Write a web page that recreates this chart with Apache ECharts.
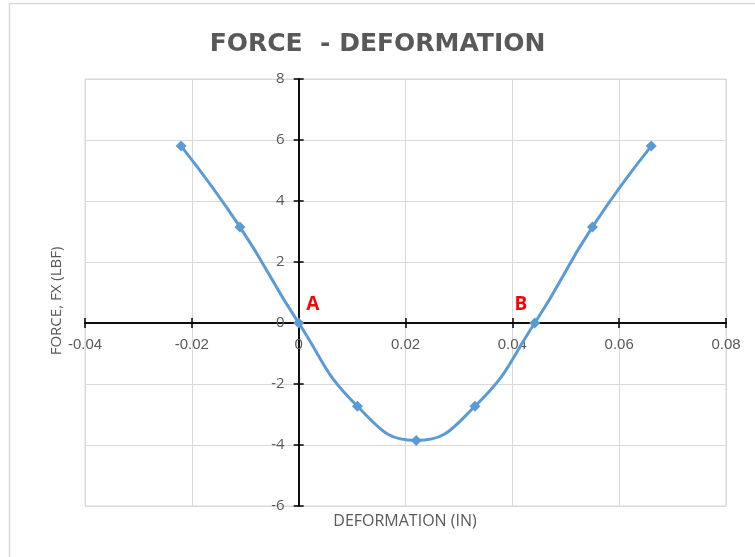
<!DOCTYPE html>
<html><head><meta charset="utf-8">
<script src="https://cdn.jsdelivr.net/npm/echarts@6/dist/echarts.min.js"></script>
<style>html,body{margin:0;padding:0;background:#fff}#c{width:755px;height:557px}</style>
</head><body><div id="c"></div>
<script>
const deformation = [-0.022, -0.011, 0, 0.011, 0.022, 0.033, 0.0442, 0.055, 0.066];
const force = [5.8, 3.15, 0, -2.73, -3.85, -2.73, 0, 3.15, 5.8];
const pointLabels = ['', '', 'A', '', '', '', 'B', '', ''];
const xTicks = {min: -0.04, max: 0.08, interval: 0.02};
const yTicks = {min: -6, max: 8, interval: 2};

const chart = echarts.init(document.getElementById('c'));
const gray = '#595959';
const gridC = '#d9d9d9';
const labelPos = {A: ['right', [-3, -18]], B: ['left', [3, -18]]};
const data = deformation.map((x, i) => {
  const d = {value: [x, force[i]]};
  const t = pointLabels[i];
  if (t) d.label = {show: true, formatter: t, position: labelPos[t][0], offset: labelPos[t][1],
    color: '#ff0000', fontWeight: 'bold', fontSize: 19, fontFamily: 'Open Sans'};
  return d;
});
const G = {left: 85, right: 29, top: 79, bottom: 51};
function xAx(inside, off) {
  return {type: 'value', min: xTicks.min, max: xTicks.max, interval: xTicks.interval, position: 'bottom', offset: off,
    axisLine: {onZero: false, lineStyle: {color: '#000', width: 1.5}},
    axisTick: {show: true, inside: inside, length: 5, lineStyle: {color: '#000', width: 1.5}},
    axisLabel: {show: !inside, color: gray, fontSize: 15, margin: 14, fontFamily: 'Liberation Sans'},
    splitLine: {show: !inside, lineStyle: {color: gridC, width: 1}}};
}
function yAx(inside, off) {
  return {type: 'value', min: yTicks.min, max: yTicks.max, interval: yTicks.interval, position: 'left', offset: off,
    axisLine: {onZero: false, lineStyle: {color: '#000', width: 1.5}},
    axisTick: {show: true, inside: inside, length: 5, lineStyle: {color: '#000', width: 1.5}},
    axisLabel: {show: !inside, color: gray, fontSize: 15, margin: 14, fontFamily: 'Open Sans'},
    splitLine: {show: !inside, lineStyle: {color: gridC, width: 1}}};
}
function build(xo, yo) {
  return {
    animation: false,
    title: {text: 'FORCE  - DEFORMATION', left: 'center', top: 27,
      textStyle: {color: gray, fontSize: 25, fontWeight: 'bold', fontFamily: 'DejaVu Sans'}},
    grid: Object.assign({show: true, borderColor: gridC, borderWidth: 1}, G),
    graphic: [
      {type: 'rect', shape: {x: 9.5, y: 3.5, width: 800, height: 600}, style: {fill: null, stroke: '#d9d9d9', lineWidth: 1.5}, silent: true, z: -1},
      {type: 'text', x: 405, y: 521, style: {text: 'DEFORMATION (IN)', fill: gray, fontSize: 16, fontFamily: 'Open Sans', align: 'center', verticalAlign: 'middle'}},
      {type: 'text', x: 57, y: 301, rotation: Math.PI / 2, style: {text: 'FORCE, FX (LBF)', fill: gray, fontSize: 15, fontFamily: 'Open Sans', align: 'center', verticalAlign: 'middle'}}
    ],
    xAxis: [xAx(false, xo), xAx(true, xo)],
    yAxis: [yAx(false, yo), yAx(true, yo)],
    series: [{
      type: 'line', xAxisIndex: 0, yAxisIndex: 0, data: data, smooth: 0.5,
      symbol: 'diamond', symbolSize: 11,
      lineStyle: {color: '#5b9bd5', width: 3},
      itemStyle: {color: '#5b9bd5'}, z: 5
    }]
  };
}
chart.setOption(build(0, 0));
const origin = chart.convertToPixel({xAxisIndex: 0, yAxisIndex: 0}, [0, 0]);
const xOff = -((557 - G.bottom) - origin[1]);
const yOff = -(origin[0] - G.left);
chart.setOption(build(xOff, yOff), true);
</script></body></html>
